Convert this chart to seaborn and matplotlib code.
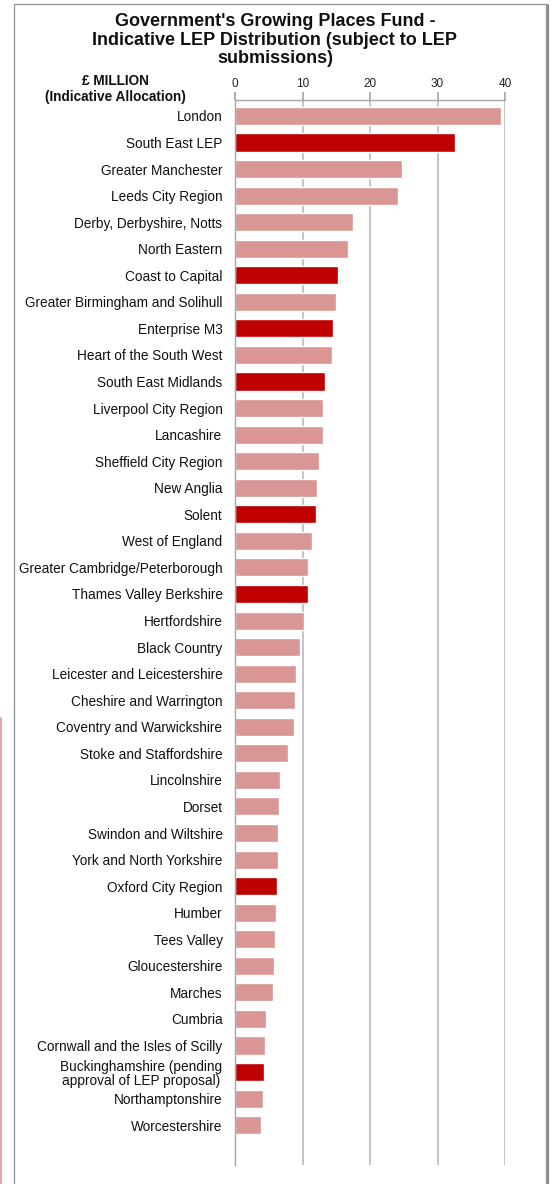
import numpy as np
import pandas as pd
import matplotlib
matplotlib.use("Agg")
import matplotlib.pyplot as plt
from matplotlib.patches import Rectangle
from matplotlib.lines import Line2D
import seaborn as sns

# Growing Places Fund indicative allocations (£ million) by LEP
regions = [
    "London", "South East LEP", "Greater Manchester", "Leeds City Region",
    "Derby, Derbyshire, Notts", "North Eastern", "Coast to Capital",
    "Greater Birmingham and Solihull", "Enterprise M3", "Heart of the South West",
    "South East Midlands", "Liverpool City Region", "Lancashire",
    "Sheffield City Region", "New Anglia", "Solent", "West of England",
    "Greater Cambridge/Peterborough", "Thames Valley Berkshire", "Hertfordshire",
    "Black Country", "Leicester and Leicestershire", "Cheshire and Warrington",
    "Coventry and Warwickshire", "Stoke and Staffordshire", "Lincolnshire",
    "Dorset", "Swindon and Wiltshire", "York and North Yorkshire",
    "Oxford City Region", "Humber", "Tees Valley", "Gloucestershire", "Marches",
    "Cumbria", "Cornwall and the Isles of Scilly",
    "Buckinghamshire (pending\napproval of LEP proposal)",
    "Northamptonshire", "Worcestershire",
]
values = [
    39.4, 32.6, 24.7, 24.1, 17.5, 16.8, 15.2, 15.0, 14.5, 14.3,
    13.3, 13.1, 13.0, 12.5, 12.1, 12.0, 11.4, 10.8, 10.8, 10.2,
    9.7, 9.1, 8.9, 8.7, 7.8, 6.6, 6.5, 6.3, 6.3, 6.2,
    6.0, 5.9, 5.8, 5.6, 4.6, 4.4, 4.3, 4.1, 3.8,
]
highlighted = [
    "South East LEP", "Coast to Capital", "Enterprise M3", "South East Midlands",
    "Solent", "Thames Valley Berkshire", "Oxford City Region",
    "Buckinghamshire (pending\napproval of LEP proposal)",
]
x_ticks = [0, 10, 20, 30, 40]

PINK = "#D99694"
RED = "#C00000"
GRID = "#BFBFBF"

sns.set_theme(style="white")
plt.rcParams["font.family"] = ["Liberation Sans", "DejaVu Sans"]

df = pd.DataFrame({
    "region": regions,
    "value": values,
    "group": ["sel" if r in highlighted else "other" for r in regions],
})

W, H = 551, 1184
fig = plt.figure(figsize=(W / 100, H / 100), dpi=100)
ax = fig.add_axes([235 / W, 1 - 1165 / H, 270 / W, 1065 / H])

sns.barplot(
    data=df, y="region", x="value", hue="group", orient="h",
    palette={"other": PINK, "sel": RED}, dodge=False, width=0.68,
    saturation=1, legend=False, ax=ax,
)

ax.set_xlim(0, 40)
ax.set_ylim(39.5, -0.6)
ax.xaxis.tick_top()
ax.set_xticks(x_ticks)
ax.set_xlabel("")
ax.set_ylabel("")
ax.grid(axis="x", color=GRID, lw=1.3)
ax.grid(axis="y", visible=False)
ax.set_axisbelow(True)

for s in ["right", "bottom"]:
    ax.spines[s].set_visible(False)
for s in ["top", "left"]:
    ax.spines[s].set_color("#A6A6A6")
    ax.spines[s].set_linewidth(1.0)

ax.tick_params(axis="x", which="major", labelsize=8.5, colors="#222222",
               length=6, pad=1.5, color="#A6A6A6")
ax.tick_params(axis="y", which="major", labelsize=9.8, length=0, pad=9,
               colors="#111111")
ax.set_yticks(np.arange(-0.5, 40, 1), minor=True)
ax.tick_params(axis="y", which="minor", length=4, color="#666666", width=0.8)
for lbl in ax.get_yticklabels():
    lbl.set_multialignment("center")
    lbl.set_linespacing(1.0)

# Titles
fig.text(0.499, 1 - 13 / H,
         "Government's Growing Places Fund -\n"
         "Indicative LEP Distribution (subject to LEP\nsubmissions)",
         ha="center", va="top", fontsize=13, fontweight="bold",
         linespacing=1.13, color="#111111")
fig.text(115 / W, 1 - 74 / H, "£ MILLION\n(Indicative Allocation)",
         ha="center", va="top", fontsize=9.8, fontweight="bold",
         linespacing=1.2, color="#111111")

# Chart frame
fig.patches.append(Rectangle((14 / W, -0.01), (546 - 14) / W, 1.01 - 4 / H,
                             transform=fig.transFigure, fill=False,
                             edgecolor="#9A9A9A", lw=1.0))
fig.lines.append(Line2D([547.5 / W, 547.5 / W], [-0.01, 1 - 5 / H],
                        transform=fig.transFigure, color="#8C8C8C", lw=1.6))
fig.lines.append(Line2D([1 / W, 1 / W], [0, 1 - 718 / H],
                        transform=fig.transFigure, color=PINK, lw=1.2))

fig.savefig("out.png", dpi=100)
